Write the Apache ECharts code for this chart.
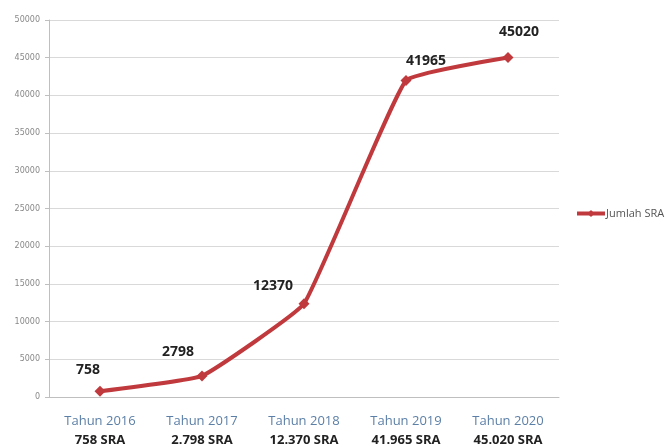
<!DOCTYPE html>
<html>
<head>
<meta charset="utf-8">
<script src="https://cdn.jsdelivr.net/npm/echarts@6/dist/echarts.min.js"></script>
<style>
  html, body { margin: 0; padding: 0; background: #ffffff; }
  #chart { width: 669px; height: 448px; }
</style>
</head>
<body>
<div id="chart"></div>
<script>
// Jumlah SRA per tahun
const years = ['Tahun 2016', 'Tahun 2017', 'Tahun 2018', 'Tahun 2019', 'Tahun 2020'];
const subLabels = ['758 SRA', '2.798 SRA', '12.370 SRA', '41.965 SRA', '45.020 SRA'];
const values = [758, 2798, 12370, 41965, 45020];
const labelShift = [[-12, -4], [-24, -6], [-31, 0], [20, -2], [11, -8]];
const seriesName = 'Jumlah SRA';

const chart = echarts.init(document.getElementById('chart'));

chart.setOption({
  animation: false,
  backgroundColor: '#ffffff',
  grid: { left: 49, right: 110, top: 20, bottom: 51 },
  legend: {
    left: 570,
    top: 203,
    itemWidth: 28,
    itemHeight: 9,
    itemGap: 0,
    lineStyle: { width: 4 },
    textStyle: { color: '#555', fontSize: 11, fontFamily: 'Open Sans', padding: [0, 0, 0, -4] },
    data: [seriesName]
  },
  xAxis: {
    type: 'category',
    data: years,
    boundaryGap: true,
    axisLine: { lineStyle: { color: '#bfbfbf' } },
    axisTick: { show: false },
    axisLabel: {
      interval: 0,
      margin: 15,
      formatter: (v, i) => '{a|' + v + '}\n{b|' + subLabels[i] + '}',
      rich: {
        a: { color: '#5b7fa6', fontSize: 13, fontFamily: 'Open Sans', lineHeight: 19 },
        b: { color: '#222', fontSize: 13, fontWeight: 'bold', fontFamily: 'Open Sans', lineHeight: 19 }
      }
    }
  },
  yAxis: {
    type: 'value',
    min: 0,
    max: 50000,
    interval: 5000,
    axisLine: { show: true, lineStyle: { color: '#bfbfbf' } },
    axisTick: { show: true, length: 4, lineStyle: { color: '#bfbfbf' } },
    splitLine: { lineStyle: { color: '#d9d9d9' } },
    axisLabel: {
      color: '#888',
      fontSize: 8,
      fontFamily: 'DejaVu Sans',
      margin: 9,
      formatter: (v) => String(v)
    }
  },
  series: [{
    name: seriesName,
    type: 'line',
    smooth: 0.1,
    data: values.map((v, i) => ({
      value: v,
      label: { offset: labelShift[i] }
    })),
    symbol: 'diamond',
    symbolSize: 11,
    lineStyle: { color: '#c0393d', width: 4 },
    itemStyle: { color: '#c0393d' },
    label: {
      show: true,
      position: 'top',
      color: '#222',
      fontSize: 14,
      fontWeight: 'bold',
      fontFamily: 'Open Sans'
    }
  }]
});
</script>
</body>
</html>
